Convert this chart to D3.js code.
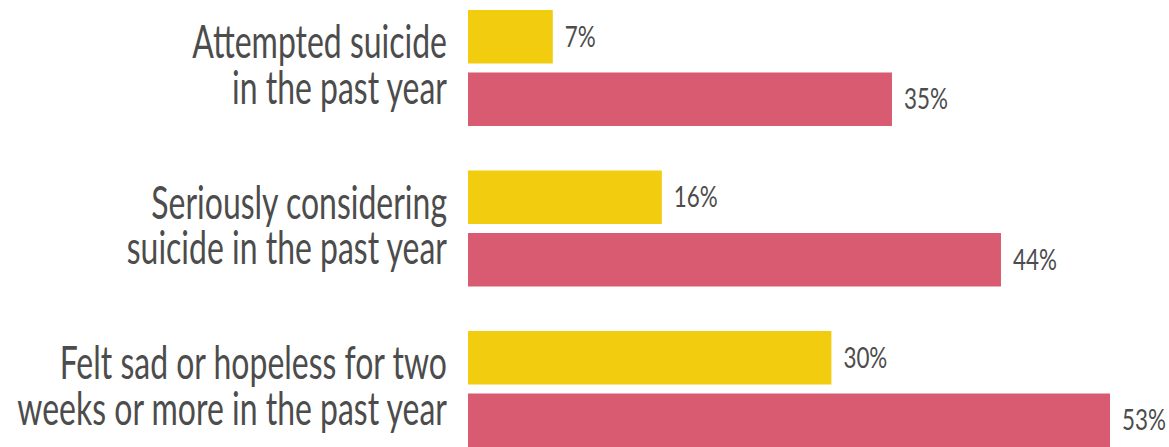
<!DOCTYPE html>
<html>
<head>
<meta charset="utf-8">
<script src="https://cdn.jsdelivr.net/npm/d3@7"></script>
<style>
  html, body { margin: 0; padding: 0; background: #fff; }
  svg { display: block; }
  text { font-family: Lato, "Open Sans", sans-serif; fill: #4c4c4c; }
</style>
</head>
<body>
<svg id="chart" width="1169" height="447"></svg>
<script>
// categories, each label split in two lines
var categories = ["attempted", "considered", "sad"];
var labelLines = [
    ["Attempted suicide", "in the past year"],
    ["Seriously considering", "suicide in the past year"],
    ["Felt sad or hopeless for two", "weeks or more in the past year"]
];
var series = ["a", "b"];
var seriesColors = ["#f2cd0f", "#d95b71"];
// percent values, per series
var valuesA = [7, 16, 30];
var valuesB = [35, 44, 53];

var width = 1169, height = 447;
var squeeze = 0.695;   // the picture is narrow, squeeze text sideways
var valSqueeze = 0.8;

var svg = d3.select("svg#chart");

var x = d3.scaleLinear()
    .domain([0, 53])
    .range([468, 1110]);

var y0 = d3.scaleBand()
    .domain(categories)
    .range([10, 10 + 3 * 160.5]);

var y1 = d3.scaleBand()
    .domain(series)
    .range([0, 116])
    .paddingInner(0.144);

var rows = categories.map(function (c, i) {
    return {cat: c, lines: labelLines[i], vals: [valuesA[i], valuesB[i]]};
});

var g = svg.selectAll("g.group")
    .data(rows)
    .enter().append("g")
    .attr("class", "group")
    .attr("transform", function (d) { return "translate(0," + y0(d.cat) + ")"; });

// bars
g.selectAll("rect")
    .data(function (d) { return d.vals.map(function (v, j) { return {s: series[j], v: v, j: j}; }); })
    .enter().append("rect")
    .attr("x", x(0))
    .attr("y", function (d) { return y1(d.s); })
    .attr("width", function (d) { return x(d.v) - x(0); })
    .attr("height", y1.bandwidth())
    .attr("fill", function (d) { return seriesColors[d.j]; });

// value labels
g.selectAll("text.val")
    .data(function (d) { return d.vals.map(function (v, j) { return {s: series[j], v: v}; }); })
    .enter().append("text")
    .attr("class", "val")
    .attr("transform", function (d) {
        return "translate(" + (x(d.v) + 12) + "," + (y1(d.s) + y1.bandwidth() / 2 + 10) + ") scale(" + valSqueeze + ",1)";
    })
    .style("font-size", "28px")
    .text(function (d) { return d.v + "%"; });

// category labels, right aligned, one text with two lines
var mid = y1.range()[1] / 2;
var cat = g.append("text")
    .attr("class", "cat")
    .attr("text-anchor", "end")
    .attr("transform", "translate(447," + (mid - 10) + ") scale(" + squeeze + ",1)")
    .style("font-size", "46px");

cat.selectAll("tspan")
    .data(function (d) { return d.lines; })
    .enter().append("tspan")
    .attr("x", 0)
    .attr("dy", function (t, k) { return k === 0 ? 0 : 46; })
    .text(function (t) { return t; });
</script>
</body>
</html>
